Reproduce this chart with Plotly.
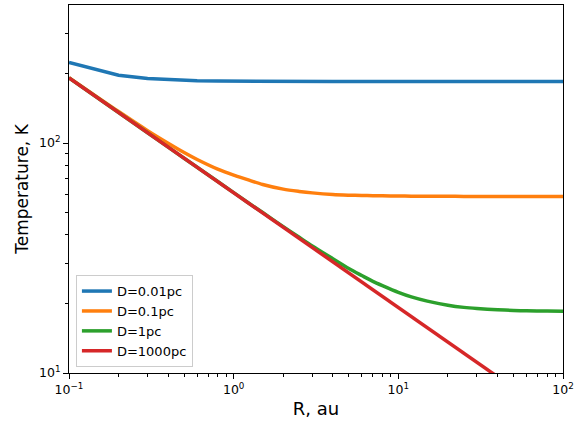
import plotly.graph_objects as go

R = [0.1, 0.2, 0.3, 0.4, 0.5, 0.6, 0.8, 1, 1.2, 1.5, 2, 2.5, 3, 4, 5, 6, 7, 8, 10, 12, 15, 20, 25, 30, 40, 50, 60, 80, 100]
T_001pc = [224, 197.1, 190.7, 188.3, 187.1, 186.5, 185.8, 185.5, 185.3, 185.2, 185.1, 185, 185, 185, 185, 185, 185, 185, 185, 185, 185, 185, 185, 185, 185, 185, 185, 185, 185]
T_01pc = [192.4, 137.0, 113.2, 99.8, 90.9, 84.8, 77.0, 72.5, 69.5, 66.0, 63.0, 61.6, 60.7, 59.7, 59.3, 59.1, 59.0, 58.9, 58.8, 58.75, 58.7, 58.65, 58.6, 58.6, 58.6, 58.6, 58.6, 58.6, 58.6]
T_1pc = [192.0, 135.7, 110.8, 96.0, 85.85, 78.46, 68.0, 60.83, 55.57, 49.84, 43.27, 38.9, 35.67, 31.39, 28.47, 26.53, 25.03, 23.98, 22.43, 21.43, 20.54, 19.72, 19.29, 19.07, 18.83, 18.71, 18.64, 18.58, 18.55]
T_1000pc = [192.0, 135.7, 110.8, 96.0, 85.8, 78.4, 67.9, 60.7, 55.4, 49.6, 42.9, 38.4, 35.0, 30.4, 27.1, 24.8, 22.9, 21.5, 19.2, 17.5, 15.7, 13.6, 12.1, 11.1, 9.6, 8.6, 7.8, 6.8, 6.1]

names = ["D=0.01pc", "D=0.1pc", "D=1pc", "D=1000pc"]
colors = ["#1f77b4", "#ff7f0e", "#2ca02c", "#d62728"]
shapes = ["linear", "spline", "spline", "linear"]
series = [T_001pc, T_01pc, T_1pc, T_1000pc]

x_major = [0.1, 1, 10, 100]
x_major_text = ["10<sup>−1</sup>", "10<sup>0</sup>", "10<sup>1</sup>", "10<sup>2</sup>"]
y_major = [10, 100]
y_major_text = ["10<sup>1</sup>", "10<sup>2</sup>"]
x_minor = [m * d for d in (0.1, 1, 10) for m in range(2, 10)]
y_minor = [m * d for d in (10, 100) for m in range(2, 10)]

fig = go.Figure()
for name, c, s, sh in zip(names, colors, series, shapes):
    fig.add_trace(go.Scatter(x=R, y=s, mode="lines", name=name,
                             line=dict(color=c, width=3.5, shape=sh, smoothing=0.8)))

axis_common = dict(
    type="log", showgrid=False, zeroline=False, showline=True, linecolor="black",
    linewidth=1, mirror=True, ticks="outside", ticklen=5, tickwidth=1, tickcolor="black",
    tickfont=dict(family="DejaVu Sans", size=12.5, color="black"), automargin=False,
)

fig.update_xaxes(**axis_common, range=[-1, 2], tickmode="array", tickvals=x_major,
                 ticktext=x_major_text,
                 minor=dict(tickmode="array", tickvals=x_minor, ticks="outside", ticklen=3,
                            tickcolor="black", tickwidth=1, showgrid=False),
                 title=dict(text="R, au", font=dict(family="DejaVu Sans", size=18, color="black"),
                            standoff=6))
fig.update_yaxes(**axis_common, range=[1, 2.6], tickmode="array", tickvals=y_major,
                 ticktext=y_major_text,
                 minor=dict(tickmode="array", tickvals=y_minor, ticks="outside", ticklen=3,
                            tickcolor="black", tickwidth=1, showgrid=False),
                 title=dict(text="Temperature, K", font=dict(family="DejaVu Sans", size=17, color="black"),
                            standoff=6))

fig.update_layout(
    width=574, height=429,
    margin=dict(l=69, r=11, t=5, b=56, autoexpand=False),
    plot_bgcolor="white", paper_bgcolor="white",
    showlegend=True,
    legend=dict(x=0.014, y=0.016, xanchor="left", yanchor="bottom",
                bgcolor="rgba(255,255,255,0.8)", bordercolor="#cccccc", borderwidth=1,
                font=dict(family="DejaVu Sans", size=13, color="black"),
                tracegroupgap=0, itemwidth=30),
)

fig.write_html("out.html")
